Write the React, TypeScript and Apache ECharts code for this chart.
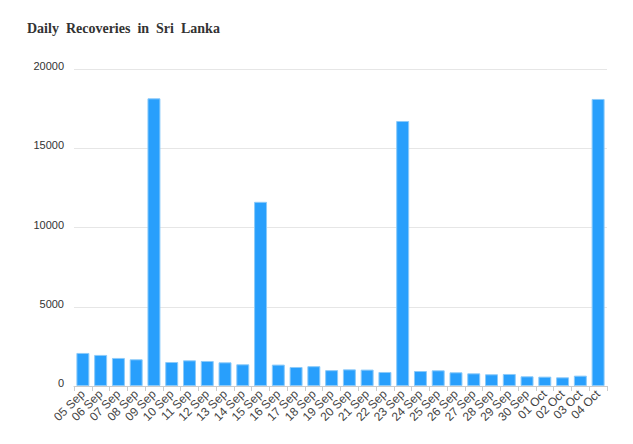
import React, { useEffect, useRef } from "react";
import * as echarts from "echarts";

const categories = [
  "05 Sep", "06 Sep", "07 Sep", "08 Sep", "09 Sep", "10 Sep", "11 Sep", "12 Sep", "13 Sep", "14 Sep",
  "15 Sep", "16 Sep", "17 Sep", "18 Sep", "19 Sep", "20 Sep", "21 Sep", "22 Sep", "23 Sep", "24 Sep",
  "25 Sep", "26 Sep", "27 Sep", "28 Sep", "29 Sep", "30 Sep", "01 Oct", "02 Oct", "03 Oct", "04 Oct",
];

const recoveries = [
  2085, 1960, 1770, 1685, 18150, 1515, 1620, 1580, 1495, 1370,
  11620, 1350, 1200, 1250, 1000, 1050, 1035, 885, 16720, 945,
  990, 865, 800, 740, 760, 612, 590, 548, 653, 18110,
];

const yTicks = [0, 5000, 10000, 15000, 20000];

export default function App() {
  const ref = useRef<HTMLDivElement>(null);
  useEffect(() => {
    if (!ref.current) return;
    const chart = echarts.init(ref.current, undefined, { renderer: "svg" });
    chart.setOption({
      animation: false,
      title: {
        text: "Daily  Recoveries  in  Sri  Lanka",
        left: 14,
        top: 8,
        textStyle: {
          fontFamily: "Liberation Serif",
          fontWeight: "bold",
          fontSize: 14,
          color: "#333",
        },
      },
      grid: { left: 66, right: 18, top: 61, bottom: 50 },
      xAxis: {
        type: "category",
        data: categories,
        axisLine: { lineStyle: { color: "#ccc", width: 1 } },
        axisTick: { show: true, lineStyle: { color: "#ccc" } },
        axisLabel: {
          rotate: 45,
          interval: 0,
          fontFamily: "Liberation Sans",
          fontSize: 12,
          color: "#444",
          margin: 6,
        },
      },
      yAxis: {
        type: "value",
        min: yTicks[0],
        max: yTicks[yTicks.length - 1],
        interval: 5000,
        axisLine: { show: false },
        axisTick: { show: false },
        splitLine: { lineStyle: { color: "#e6e6e6" } },
        axisLabel: {
          fontFamily: "Liberation Sans",
          fontSize: 11,
          color: "#333",
          margin: 10,
          verticalAlign: "bottom",
          lineHeight: 6,
          formatter: (v: number) => String(v),
        },
      },
      series: [
        {
          type: "bar",
          data: recoveries,
          barCategoryGap: "27%",
          itemStyle: {
            color: "#289ffc",
            borderColor: "#8ccaf9",
            borderWidth: 1,
          },
        },
      ],
    });
    return () => chart.dispose();
  }, []);
  return <div ref={ref} style={{ width: 617, height: 428 }} />;
}
